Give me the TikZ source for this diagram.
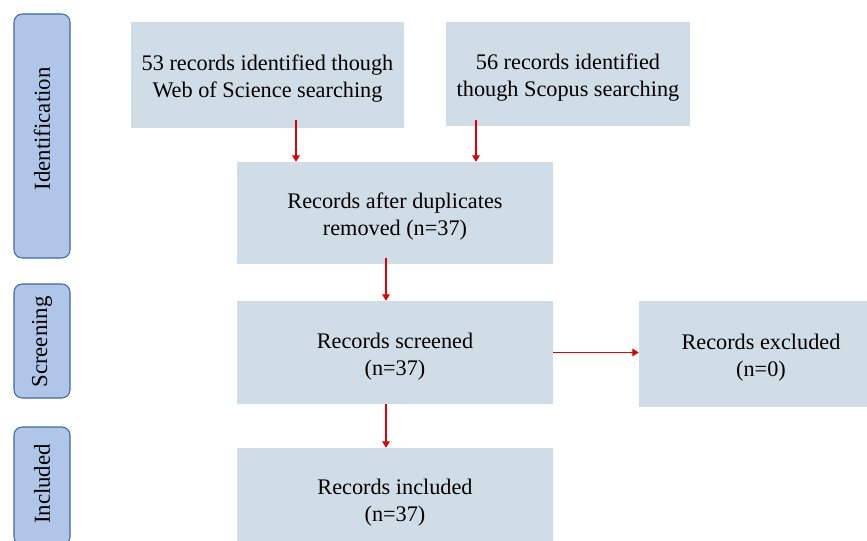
\documentclass[tikz,border=0pt]{standalone}
\usepackage{fontspec}
\setmainfont{Liberation Serif}
\usetikzlibrary{arrows.meta}
\definecolor{boxfill}{HTML}{D0DCE6}
\definecolor{stagefill}{HTML}{AFC6E9}
\definecolor{stageline}{HTML}{3A68A8}
\definecolor{arrowred}{HTML}{E00000}
\tikzset{
  recbox/.style={fill=boxfill, draw=none, inner sep=0pt},
  rectext/.style={align=center, inner sep=0pt, yshift=-0.12cm,
    font=\fontsize{19}{23}\selectfont},
  stagebox/.style={fill=stagefill, draw=stageline, line width=0.9pt, rounded corners=7pt,
    inner sep=0pt, minimum width=56*0.03cm},
  stagelabel/.style={rotate=90, font=\fontsize{19.5}{21}\selectfont},
  flow/.style={draw=arrowred, line width=0.9pt, -{Triangle[length=5.5pt,width=6.5pt]}}
}
\begin{document}
\begin{tikzpicture}[x=0.03cm,y=-0.03cm]
\useasboundingbox (0,0) rectangle (867,541);
% stage boxes
\node[stagebox, minimum height=244*0.03cm] (sid) at (42,136) {};
\node[stagelabel] (lid) at (42,129) {Identification};
\node[stagebox, minimum height=114*0.03cm] (ssc) at (42,341) {};
\node[stagelabel] (lsc) at (42,342) {Screening};
\node[stagebox, minimum height=118*0.03cm] (sin) at (42,486) {};
\node[stagelabel] (lin) at (42,484) {Included};
% record boxes
\node[recbox, minimum width=273*0.03cm, minimum height=106*0.03cm] (wos) at (267.5,75) {};
\node[rectext] (wost) at (wos.center) {53 records identified though\\Web of Science searching};
\node[recbox, minimum width=244*0.03cm, minimum height=104*0.03cm] (sco) at (568,74) {};
\node[rectext] (scot) at (sco.center) {56 records identified\\though Scopus searching};
\node[recbox, minimum width=316*0.03cm, minimum height=102*0.03cm] (dup) at (395,213) {};
\node[rectext] (dupt) at (dup.center) {Records after duplicates\\removed (n=37)};
\node[recbox, minimum width=316*0.03cm, minimum height=103*0.03cm] (scr) at (395,352.5) {};
\node[rectext] (scrt) at (scr.center) {Records screened\\(n=37)};
\node[recbox, minimum width=228*0.03cm, minimum height=106*0.03cm] (exc) at (753,354) {};
\node[rectext] (exct) at (761,354) {Records excluded\\(n=0)};
\node[recbox, minimum width=316*0.03cm, minimum height=97*0.03cm] (inc) at (395,496.5) {};
\node[rectext] (inct) at (395,499) {Records included\\(n=37)};
% connectors
\coordinate (a1s) at (296,120);
\coordinate (a2s) at (476,120);
\coordinate (a3s) at (386,258);
\coordinate (a4s) at (386,404);
\draw[flow] (a1s) -- (a1s |- dup.north);
\draw[flow] (a2s) -- (a2s |- dup.north);
\draw[flow] (a3s) -- (a3s |- scr.north);
\draw[flow] (a4s |- scr.south) -- (a4s |- inc.north);
\draw[flow] (scr.east) -- (exc.west |- scr.east);
\end{tikzpicture}
\end{document}
